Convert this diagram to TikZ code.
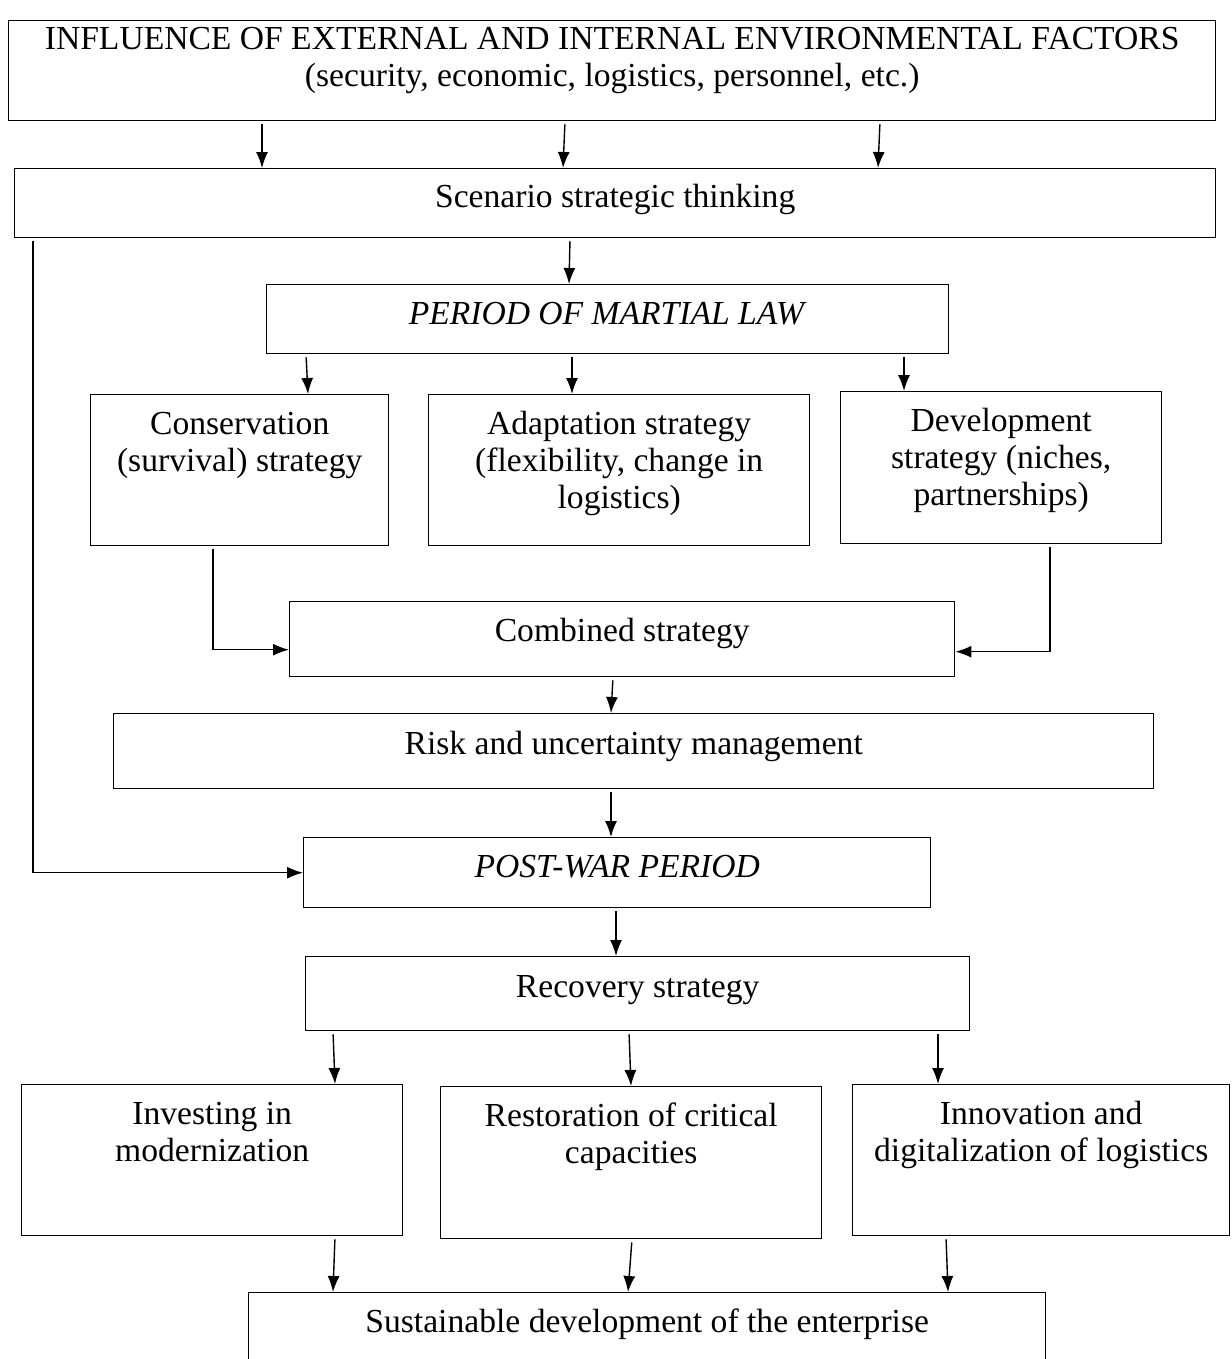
\documentclass[tikz,border=0pt]{standalone}
\usepackage{fontspec}
\setmainfont{Liberation Serif}
\usetikzlibrary{arrows.meta,positioning}

\tikzset{
  blk/.style={draw, rectangle, inner sep=0pt, align=center, anchor=north west, line width=0.7pt},
  arr/.style={line width=0.7pt, -{Latex[length=8pt,width=6pt]}, shorten <=1.5pt},
}

\begin{document}
\begin{tikzpicture}[x=0.5pt,y=-0.5pt]
                    \fontsize{16.8}{18.5}\selectfont

                    \useasboundingbox (0,0) rectangle (1231,1359);
                    \clip (0,0) rectangle (1231,1359);

                    %%top part
                    \node[blk, minimum width=603.5pt, text height=33pt, text depth=17pt] (infl) at (8,20) {INFLUENCE OF EXTERNAL AND INTERNAL ENVIRONMENTAL FACTORS\\(security, economic, logistics, personnel, etc.)};
                    \node[blk, minimum width=600.5pt, text height=19.5pt, text depth=15pt] (scen) at (14,168) {Scenario strategic thinking};
                    \node[blk, minimum width=341pt, text height=20pt, text depth=14.5pt] (martial) at (266,284) {\textit{PERIOD OF MARTIAL LAW}};

                    %%strategies
                    \node[blk, minimum width=149pt, text height=38.5pt, text depth=37pt] (cons) at (90,394) {Conservation\\(survival) strategy};
                    \node[blk, minimum width=190.5pt, text height=57pt, text depth=18.5pt] (adapt) at (428,394) {Adaptation strategy\\(flexibility, change in\\logistics)};
                    \node[blk, minimum width=160.5pt, text height=57pt, text depth=19pt] (devel) at (840,391) {Development\\strategy (niches,\\partnerships)};
                    \node[blk, minimum width=332.5pt, text height=20pt, text depth=17.5pt] (comb) at (289,601) {Combined strategy};
                    \node[blk, minimum width=520pt, text height=20.5pt, text depth=17pt] (risk) at (113,713) {Risk and uncertainty management};

                    %%after the war
                    \node[blk, minimum width=313.5pt, text height=20pt, text depth=15pt] (post) at (303,837) {\textit{POST-WAR PERIOD}};
                    \node[blk, minimum width=332pt, text height=20.5pt, text depth=16.5pt] (recov) at (305,956) {Recovery strategy};
                    \node[blk, minimum width=190.5pt, text height=38.5pt, text depth=37pt] (invest) at (21,1084) {Investing in\\modernization};
                    \node[blk, minimum width=190.5pt, text height=38.5pt, text depth=37.5pt] (restor) at (440,1086) {Restoration of critical\\capacities};
                    \node[blk, minimum width=188.5pt, text height=38.5pt, text depth=37pt] (innov) at (852,1084) {Innovation and\\digitalization of logistics};
                    \node[blk, minimum width=398.5pt, text height=20pt, text depth=40pt] (sust) at (248,1292) {Sustainable development of the enterprise};

                    %%arrows
                    \draw[arr] ([xshift=127pt]infl.south west) -- ([xshift=124pt]scen.north west);
                    \draw[arr] ([xshift=278.5pt]infl.south west) -- ([xshift=274.5pt]scen.north west);
                    \draw[arr] ([xshift=436pt]infl.south west) -- ([xshift=432pt]scen.north west);
                    \draw[arr] ([xshift=278pt]scen.south west) -- ([xshift=151.5pt]martial.north west);
                    \draw[arr] ([xshift=20pt]martial.south west) -- ([xshift=109pt]cons.north west);
                    \draw[arr] ([xshift=153pt]martial.south west) -- ([xshift=72pt]adapt.north west);
                    \draw[arr] ([xshift=319pt]martial.south west) -- ([xshift=32pt]devel.north west);
                    \draw[arr] ([xshift=61.5pt]cons.south west) |- ([yshift=-5.25pt]comb.west);
                    \draw[arr] ([xshift=105pt]devel.south west) |- ([yshift=-6.25pt]comb.east);
                    \draw[arr] ([xshift=162pt]comb.south west) -- ([xshift=249pt]risk.north west);
                    \draw[arr] ([xshift=249pt]risk.south west) -- ([xshift=154pt]post.north west);
                    \draw[arr] ([xshift=9.5pt]scen.south west) |- (post.west);
                    \draw[arr] ([xshift=156.5pt]post.south west) -- ([xshift=155.5pt]recov.north west);
                    \draw[arr] ([xshift=14pt]recov.south west) -- ([xshift=157pt]invest.north west);
                    \draw[arr] ([xshift=162pt]recov.south west) -- ([xshift=95.5pt]restor.north west);
                    \draw[arr] ([xshift=316.5pt]recov.south west) -- ([xshift=43pt]innov.north west);
                    \draw[arr] ([xshift=157pt]invest.south west) -- ([xshift=42.5pt]sust.north west);
                    \draw[arr] ([xshift=96pt]restor.south west) -- ([xshift=190pt]sust.north west);
                    \draw[arr] ([xshift=47pt]innov.south west) -- ([xshift=350pt]sust.north west);

\end{tikzpicture}
\end{document}
